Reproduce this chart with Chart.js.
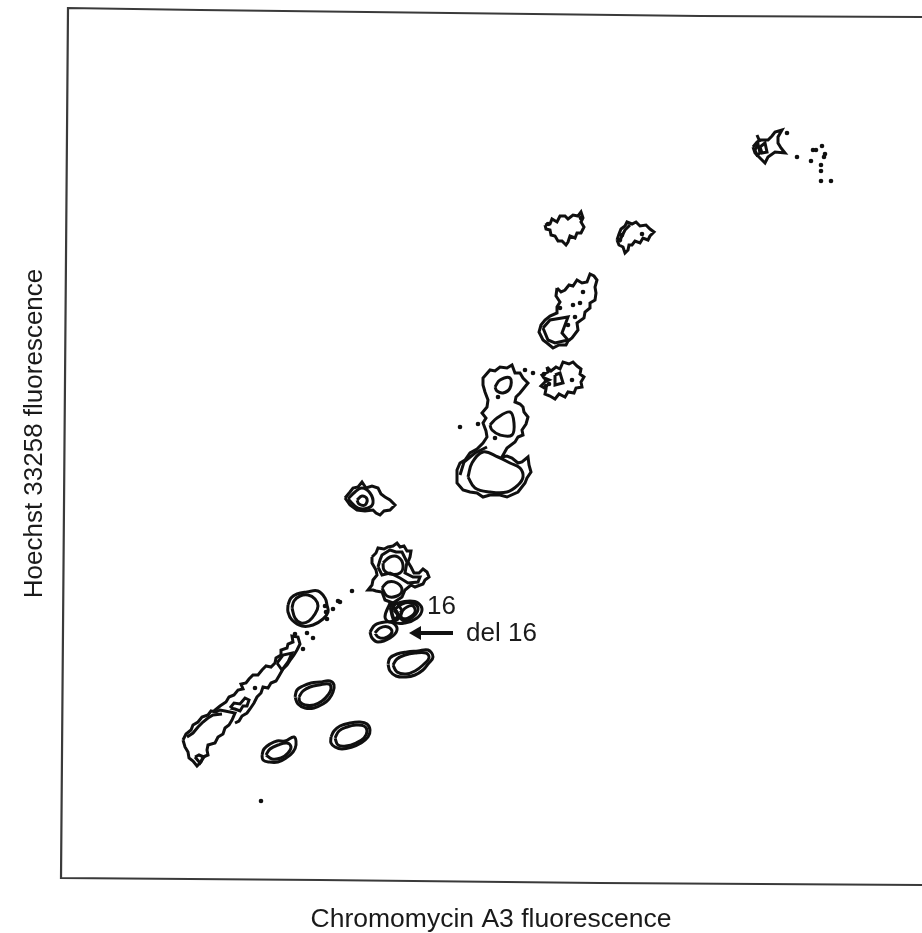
<!DOCTYPE html>
<html>
<head>
<meta charset="utf-8">
<title>Flow karyotype</title>
<script src="https://cdn.jsdelivr.net/npm/chart.js@4"></script>
<style>
  html, body { margin: 0; background: #fff; overflow: hidden; }
  canvas { display: block; margin-top: -18px; filter: blur(0.6px); }
</style>
</head>
<body>
<canvas id="karyotype" width="922" height="951"></canvas>
<script>
// axis labels
const xLabel = 'Chromomycin A3 fluorescence';
const yLabel = 'Hoechst 33258 fluorescence';

// contours as [chromomycin, hoechst] (both axes in picture units)
const frame = [[922,17],[700,16],[200,10],[68,8],[61,878],[320,880],[600,883],[922,885]];

const streakLow = [[183,740],[186,734],[191,730],[193,725],[198,722],[202,717],[208,715],[211,711],[216,712],[220,710],[225,711],[235,713],[232,720],[229,725],[225,728],[223,734],[218,737],[215,743],[208,745],[207,750],[208,755],[203,757],[201,762],[197,766],[193,761],[189,758],[188,752],[185,747]];
const streakLowInner = [[187,737],[193,733],[198,727],[203,722],[208,718],[213,715],[222,714]];
const streakLowTip = [[195,757],[200,763],[204,757],[199,755]];
const streakMid = [[214,711],[220,706],[226,702],[229,697],[234,695],[238,690],[243,689],[241,684],[246,683],[249,679],[253,675],[258,675],[262,670],[266,666],[271,667],[275,663],[276,658],[281,655],[281,650],[287,648],[288,644],[293,642],[292,636],[298,637],[300,644],[297,650],[294,655],[291,659],[287,665],[283,669],[279,676],[276,681],[271,683],[268,688],[263,687],[261,693],[257,697],[254,703],[250,709],[247,713],[242,716],[239,721],[235,723]];
const streakHole1 = [[230,708],[234,703],[240,704],[245,698],[249,700],[247,706],[243,706],[240,711],[235,709]];
const streakHole2 = [[277,663],[283,655],[292,653],[288,662],[282,670]];

const ringOuter = [[288,605],[291,598],[297,594],[307,592],[318,591],[325,598],[327,605],[328,612],[323,619],[313,625],[302,626],[292,620],[288,612]];
const ringInner = [[292,608],[294,601],[300,596],[308,595],[315,599],[318,606],[315,614],[309,621],[301,623],[295,618]];

const oval1 = [[295,697],[297,690],[303,686],[311,683],[320,682],[330,681],[334,685],[333,692],[329,699],[323,704],[314,708],[305,708],[298,704]];
const oval1Inner = [[299,697],[303,691],[310,687],[319,685],[329,684],[331,689],[328,695],[322,701],[314,705],[305,705],[300,702]];
const oval2 = [[331,737],[334,731],[340,726],[350,723],[360,722],[367,724],[370,730],[368,737],[361,743],[352,747],[342,749],[335,747],[331,743]];
const oval2Inner = [[335,738],[339,731],[347,727],[356,725],[364,726],[367,731],[364,738],[356,743],[346,746],[338,745]];
const oval3 = [[262,755],[264,749],[270,744],[277,741],[285,741],[294,737],[296,745],[293,752],[286,758],[278,762],[269,762],[263,760]];
const oval3Inner = [[266,755],[270,749],[278,745],[287,743],[291,747],[288,753],[281,758],[272,759]];
const oval4 = [[388,664],[390,658],[397,654],[407,652],[418,651],[428,650],[433,657],[428,664],[423,670],[415,675],[406,677],[396,676],[390,671]];
const oval4Inner = [[393,665],[397,659],[405,655],[415,653],[426,653],[429,658],[423,665],[415,671],[406,674],[397,672]];

const clusterOuter = [[372,557],[376,553],[378,548],[384,549],[388,547],[393,546],[397,543],[400,547],[404,546],[407,551],[411,551],[410,557],[408,562],[411,567],[414,573],[419,573],[423,569],[427,572],[429,577],[425,580],[423,584],[415,587],[411,585],[405,590],[402,597],[393,603],[385,600],[382,592],[376,591],[373,590],[368,590],[372,585],[373,580],[377,575],[376,570],[372,563]];
const clusterMid = [[378,567],[380,560],[382,555],[390,550],[396,552],[402,552],[407,562],[405,573],[413,577],[420,577],[418,582],[408,583],[400,578],[390,573],[382,575]];
const clusterPeak1 = [[383,563],[390,557],[398,557],[403,565],[400,573],[390,574],[384,570]];
const clusterPeak2 = [[382,588],[388,582],[397,583],[402,590],[397,596],[387,596]];
const peak16 = [[390,607],[398,603],[410,601],[418,603],[422,610],[417,618],[405,623],[395,622]];
const peak16Mid = [[394,610],[402,604],[412,603],[418,608],[414,616],[404,621]];
const peak16Inner = [[400,613],[407,607],[413,606],[415,612],[408,618],[402,618]];
const peakLink = [[390,603],[385,617],[390,622],[398,615],[393,607]];
const peakLink2 = [[396,602],[392,612],[396,620],[402,612],[399,606]];
const peakDel16 = [[370,632],[375,625],[385,622],[393,623],[397,630],[390,638],[378,642],[372,638]];
const peakDel16Inner = [[375,633],[380,628],[388,627],[392,632],[385,638],[378,637]];

const blobA = [[345,498],[350,492],[353,488],[358,487],[362,482],[366,488],[372,486],[378,488],[381,494],[385,497],[390,500],[395,505],[390,510],[384,511],[380,515],[376,513],[373,510],[365,511],[357,510],[350,505]];
const blobAMid = [[348,499],[355,492],[362,488],[370,493],[373,503],[368,508],[358,508]];
const blobAInner = [[357,500],[362,496],[367,499],[365,505],[359,504]];

const bigLower = [[457,477],[457,470],[460,463],[465,460],[470,453],[477,449],[483,443],[487,437],[486,431],[483,423],[486,418],[482,413],[487,407],[488,400],[485,392],[483,385],[483,378],[490,370],[495,371],[500,367],[507,368],[512,365],[515,373],[520,373],[523,378],[528,383],[524,388],[520,393],[516,397],[515,402],[520,404],[523,407],[524,412],[528,417],[526,424],[522,430],[523,435],[518,437],[515,442],[507,448],[502,457],[507,456],[512,458],[518,463],[522,462],[528,457],[529,465],[531,472],[527,478],[525,483],[518,492],[507,497],[500,495],[490,495],[483,497],[477,493],[470,492],[463,490],[457,483]];
const bigLowerInner = [[468,477],[472,463],[483,452],[498,457],[510,463],[520,468],[523,477],[518,485],[507,492],[490,492],[475,488]];
const bigLowerMid = [[460,475],[464,462],[475,453],[487,447]];
const bigHole1 = [[495,387],[500,380],[510,378],[510,388],[503,393],[497,391]];
const bigHole2 = [[490,425],[497,418],[510,412],[514,423],[512,435],[500,435],[492,430]];

const blobB = [[547,367],[551,371],[556,367],[560,369],[563,362],[569,364],[573,362],[577,366],[581,369],[580,374],[584,377],[581,382],[582,387],[576,388],[574,393],[568,392],[565,397],[559,394],[555,399],[550,396],[545,394],[546,389],[541,386],[545,382],[549,380],[544,378],[542,375],[548,372]];
const blobBInner = [[555,375],[560,373],[563,383],[555,385]];
const blobC = [[557,288],[561,292],[565,290],[569,285],[573,286],[577,280],[582,283],[587,282],[590,274],[594,276],[597,280],[595,287],[596,293],[595,300],[590,303],[590,308],[585,312],[584,318],[577,323],[578,330],[572,338],[568,341],[566,345],[559,345],[553,348],[547,343],[543,340],[539,332],[541,325],[545,320],[550,316],[557,313],[557,307],[560,302],[556,296]];
const blobCInner = [[543,328],[550,320],[562,318],[568,317],[562,333],[568,340],[555,343],[548,340]];
const blobD = [[545,225],[550,224],[552,219],[557,222],[560,216],[565,216],[568,219],[573,215],[578,216],[581,212],[583,218],[581,222],[584,227],[581,233],[577,233],[575,238],[570,236],[568,242],[566,245],[562,241],[558,241],[555,236],[551,235],[550,230],[546,229]];
const blobE = [[617,240],[619,234],[621,229],[625,226],[627,222],[632,224],[636,222],[640,226],[646,225],[650,229],[654,232],[650,236],[648,240],[643,238],[640,243],[635,241],[632,245],[629,245],[628,250],[625,253],[623,247],[619,245]];
const blobEMid = [[619,242],[625,230],[630,225]];
const topBlob = [[753,147],[757,142],[760,140],[768,140],[772,136],[775,132],[782,130],[778,137],[778,143],[781,148],[785,153],[775,152],[768,157],[765,163],[760,158],[755,153]];
const topBlobInner = [[760,147],[765,143],[767,152],[762,153]];
const topBlobMid = [[755,150],[758,144],[760,153],[757,155]];
const topBlobSpur = [[757,135],[760,142]];

// lone events
const dots = [[303,649],[313,638],[307,633],[295,634],[255,688],[325,606],[333,609],[326,612],[327,619],[352,591],[338,601],[340,602],
  [460,427],[478,424],[498,397],[525,370],[533,373],[495,438],[572,380],[544,374],[546,380],[549,384],[546,386],
  [583,292],[580,303],[573,305],[575,317],[568,325],[560,308],[642,234],[261,801],[548,224],[581,218],[620,240],[622,235],
  [787,133],[797,157],[813,150],[816,150],[822,146],[811,161],[824,157],[825,154],[821,165],[821,171],[821,181],[831,181]];

// del 16 arrow
const arrowShaft = [[453,633],[420,633]];
const arrowHead = [[417,633]];

const jaggedContours = [streakLow, streakLowTip, streakHole1, streakHole2, clusterOuter, clusterMid,
  blobA, bigLower, blobB, blobBInner, blobC, blobCInner, blobD, blobE, topBlob, topBlobInner, topBlobMid];
const smoothContours = [ringOuter, ringInner, oval1, oval1Inner, oval2, oval2Inner, oval3, oval3Inner, oval4, oval4Inner,
  clusterPeak1, clusterPeak2, peak16, peak16Mid, peak16Inner, peakLink, peakLink2, peakDel16, peakDel16Inner,
  blobAMid, blobAInner, bigLowerInner, bigHole1, bigHole2];
const openContours = [streakLowInner, streakMid, bigLowerMid, blobEMid, topBlobSpur];

const toPoints = arr => arr.map(p => ({ x: p[0], y: p[1] }));
const ink = '#101010';

const lineSet = (arr, tension) => ({
  data: toPoints(arr), showLine: true, borderColor: ink, borderWidth: 3,
  pointRadius: 0, fill: false, tension
});

const datasets = [];
datasets.push({ data: toPoints(frame), showLine: true, borderColor: '#3a3a3a', borderWidth: 2.2, pointRadius: 0, clip: false });
jaggedContours.forEach(c => datasets.push(lineSet(c.concat([c[0]]), 0)));
smoothContours.forEach(c => datasets.push(lineSet(c.concat([c[0]]), 0.4)));
openContours.forEach(c => datasets.push(lineSet(c, 0)));
datasets.push({ data: toPoints(dots), showLine: false, pointRadius: 2.3, pointBackgroundColor: ink, pointBorderWidth: 0 });
datasets.push({ data: toPoints(arrowShaft), showLine: true, borderColor: '#111', borderWidth: 4, pointRadius: 0 });
datasets.push({ data: toPoints(arrowHead), showLine: false, pointStyle: 'triangle', pointRotation: 270, pointRadius: 8, pointBackgroundColor: '#111', pointBorderWidth: 0 });

// the two peak labels sit next to the contours
const peakLabels = {
  id: 'peakLabels',
  afterDatasetsDraw(chart) {
    const { ctx, scales } = chart;
    ctx.save();
    ctx.font = '26px "Liberation Sans"';
    ctx.fillStyle = '#1a1a1a';
    ctx.textBaseline = 'middle';
    ctx.fillText('16', scales.x.getPixelForValue(427), scales.y.getPixelForValue(607));
    ctx.fillText('del 16', scales.x.getPixelForValue(466), scales.y.getPixelForValue(634));
    ctx.restore();
  }
};

new Chart(document.getElementById('karyotype'), {
  type: 'scatter',
  data: { datasets },
  plugins: [peakLabels],
  options: {
    responsive: false,
    animation: false,
    layout: { autoPadding: false },
    plugins: { legend: { display: false }, tooltip: { enabled: false } },
    scales: {
      x: {
        type: 'linear', min: 60, max: 922,
        grid: { display: false }, border: { display: false }, ticks: { display: false },
        afterFit: s => { s.height = 48; },
        title: { display: true, text: xLabel, color: '#1a1a1a', font: { family: 'Liberation Sans', size: 26.5 }, padding: { top: 20, bottom: -3 } }
      },
      y: {
        type: 'linear', min: -18, max: 885, reverse: true,
        grid: { display: false }, border: { display: false }, ticks: { display: false },
        afterFit: s => { s.width = 60; },
        title: { display: true, text: yLabel, color: '#1a1a1a', font: { family: 'Liberation Sans', size: 26 }, padding: { top: 19, bottom: 2 } }
      }
    }
  }
});
</script>
</body>
</html>
